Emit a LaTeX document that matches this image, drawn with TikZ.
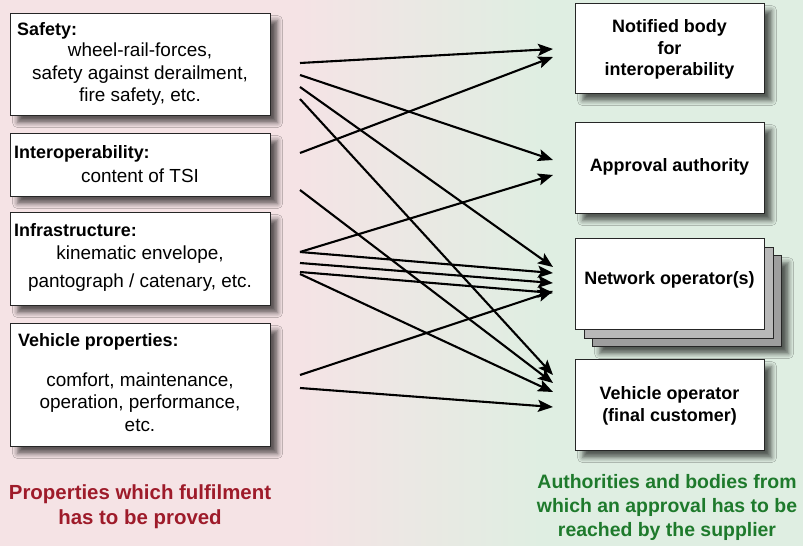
\documentclass[tikz,border=0pt]{standalone}
\usepackage{fontspec}
\setmainfont{Liberation Sans}
\usetikzlibrary{shadows.blur,arrows.meta}
\definecolor{bgpink}{HTML}{F5E3E5}
\definecolor{bggreen}{HTML}{DFEEE2}
\definecolor{capred}{HTML}{9E1B2A}
\definecolor{capgreen}{HTML}{1E7A2C}
\tikzset{
  plainbox/.style={draw=black!85, line width=1.1bp, fill=white, rectangle, anchor=north west, inner sep=0pt},
  box/.style={plainbox,
    blur shadow={shadow xshift=7bp, shadow yshift=-7bp, shadow blur radius=5bp, shadow opacity=62}},
  ttl/.style={font=\fontsize{18}{21}\selectfont\bfseries, anchor=base west, inner sep=0pt},
  bodyline/.style={font=\fontsize{19}{22}\selectfont, anchor=base, inner sep=0pt},
  rline/.style={font=\fontsize{18}{21}\selectfont\bfseries, anchor=base, inner sep=0pt},
  capline/.style={font=\fontsize{20.5}{24}\selectfont\bfseries, anchor=base, inner sep=0pt},
  arr/.style={line width=2.1bp, -{Stealth[length=15bp,width=12bp,inset=3bp]}},
}
\begin{document}
\begin{tikzpicture}[x=1bp,y=-1bp]
\useasboundingbox (0,0) rectangle (803,546);
% background
\fill[bgpink] (0,0) rectangle (300,546);
\shade[left color=bgpink, right color=bggreen] (299.5,0) rectangle (540.5,546);
\fill[bggreen] (540,0) rectangle (803,546);

% left boxes
\node[box, minimum width=260bp, minimum height=102bp] (safety) at (10,13) {};
\node[box, minimum width=260bp, minimum height=63bp] (interop) at (10,133) {};
\node[box, minimum width=260bp, minimum height=93bp] (infra) at (10,212) {};
\node[box, minimum width=260bp, minimum height=123bp] (vprop) at (10,323) {};

\node[ttl] (safetyT) at (17,36) {Safety:};
\node[bodyline] (safety1) at (140,57) {wheel-rail-forces,};
\node[bodyline] (safety2) at (140,80) {safety against derailment,};
\node[bodyline] (safety3) at (140,102) {fire safety, etc.};

\node[ttl] (interopT) at (14,159) {Interoperability:};
\node[bodyline] (interop1) at (140,183) {content of TSI};

\node[ttl] (infraT) at (14,237) {Infrastructure:};
\node[bodyline] (infra1) at (140,260) {kinematic envelope,};
\node[bodyline] (infra2) at (140,288) {pantograph / catenary, etc.};

\node[ttl] (vpropT) at (18,346) {Vehicle properties:};
\node[bodyline] (vprop1) at (140,386) {comfort, maintenance,};
\node[bodyline] (vprop2) at (140,408) {operation, performance,};
\node[bodyline] (vprop3) at (140,431) {etc.};

% right boxes
\node[box, minimum width=189bp, minimum height=90bp] (notified) at (575,3) {};
\node[box, minimum width=189bp, minimum height=91bp] (approval) at (575,122) {};
\node[box, fill=black!38, minimum width=189bp, minimum height=91bp] (net3) at (592,255) {};
\node[plainbox, fill=black!28, minimum width=189bp, minimum height=91bp] (net2) at (584,247) {};
\node[plainbox, minimum width=189bp, minimum height=91bp] (network) at (575,238) {};
\node[box, minimum width=189bp, minimum height=91bp] (vop) at (575,359) {};

\node[rline] (notified1) at (669.5,33) {Notified body};
\node[rline] (notified2) at (669.5,54.5) {for};
\node[rline] (notified3) at (669.5,76) {interoperability};
\node[rline] (approval1) at (669.5,172) {Approval authority};
\node[rline] (network1) at (669.5,285) {Network operator(s)};
\node[rline] (vop1) at (669.5,399) {Vehicle operator};
\node[rline] (vop2) at (669.5,421) {(final customer)};

% captions
\node[capline, text=capred] (capL1) at (140,499) {Properties which fulfilment};
\node[capline, text=capred] (capL2) at (140,524) {has to be proved};
\node[capline, font=\fontsize{19.5}{24}\selectfont\bfseries, text=capgreen] (capR1) at (667,488) {Authorities and bodies from};
\node[capline, font=\fontsize{19.5}{24}\selectfont\bfseries, text=capgreen] (capR2) at (667,512) {which an approval has to be};
\node[capline, font=\fontsize{19.5}{24}\selectfont\bfseries, text=capgreen] (capR3) at (667,536) {reached by the supplier};

% connector end points
\coordinate (sa1) at (300,63);
\coordinate (sa2) at (300,75);
\coordinate (sa3) at (300,87);
\coordinate (sa4) at (300,99);
\coordinate (io1) at (300,153);
\coordinate (io2) at (300,190);
\coordinate (in1) at (300,252);
\coordinate (in2) at (300,263);
\coordinate (in3) at (300,272);
\coordinate (in4) at (300,274);
\coordinate (vp1) at (300,375);
\coordinate (vp2) at (300,388);

\coordinate (nb1) at (553,49);
\coordinate (nb2) at (553,57);
\coordinate (ap1) at (553,160);
\coordinate (ap2) at (553,175);
\coordinate (no1) at (553,267);
\coordinate (no2) at (553,273);
\coordinate (no3) at (553,283);
\coordinate (no4) at (553,293);
\coordinate (no5) at (553,291);
\coordinate (vo1) at (553,375);
\coordinate (vo2) at (553,383);
\coordinate (vo3) at (553,392);
\coordinate (vo4) at (553,407);

\draw[arr] (sa1) -- (nb1);
\draw[arr] (sa2) -- (ap1);
\draw[arr] (sa3) -- (no1);
\draw[arr] (sa4) -- (vo1);
\draw[arr] (io1) -- (nb2);
\draw[arr] (io2) -- (vo2);
\draw[arr] (in1) -- (ap2);
\draw[arr] (in1) -- (no2);
\draw[arr] (in2) -- (no3);
\draw[arr] (in3) -- (no4);
\draw[arr] (in4) -- (vo3);
\draw[arr] (vp1) -- (no5);
\draw[arr] (vp2) -- (vo4);
\end{tikzpicture}
\end{document}
